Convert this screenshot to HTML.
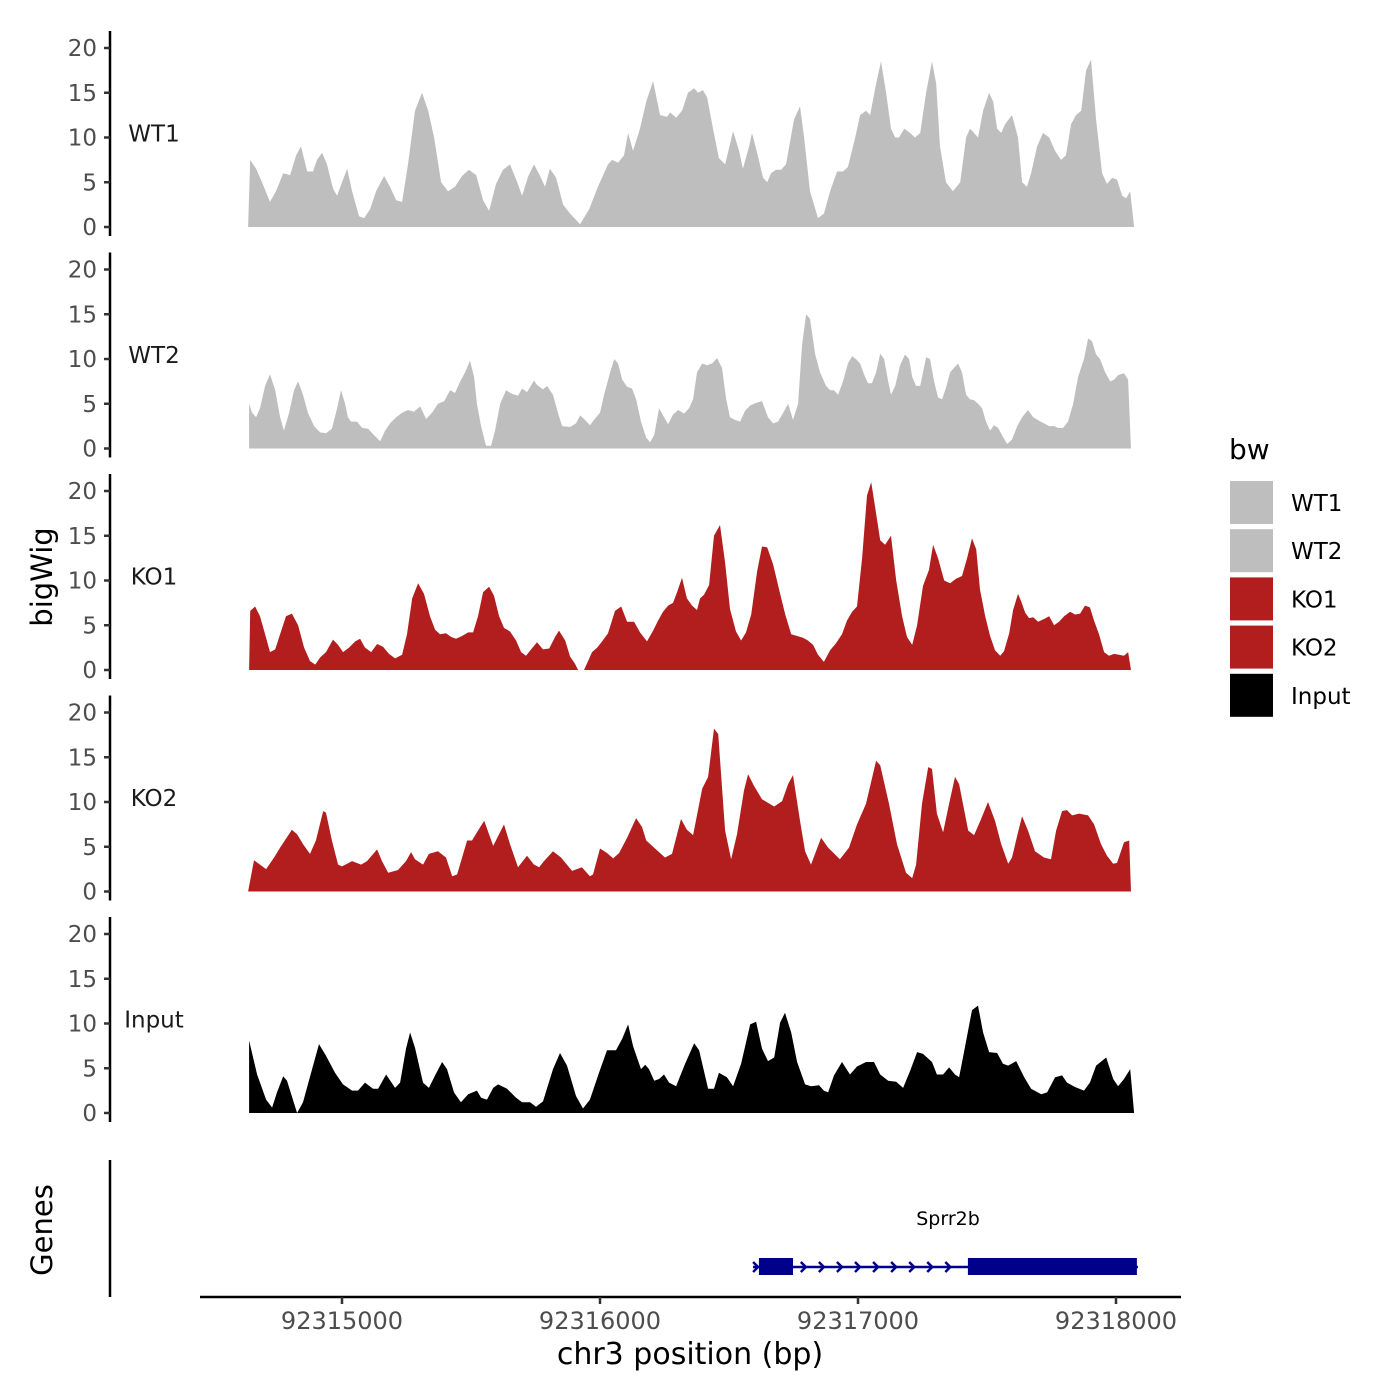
<!DOCTYPE html>
<html><head><meta charset="utf-8"><style>
html,body{margin:0;padding:0;background:#fff}
svg{display:block;font-family:"DejaVu Sans","Liberation Sans",sans-serif}
</style></head><body>
<svg id="chart" width="1400" height="1400" viewBox="0 0 1400 1400"></svg>
<script>
const regionStart = 92314601;
const trackNames = ["WT1","WT2","KO1","KO2","Input"];
const trackColors = ["#bebebe","#bebebe","#b21e1e","#b21e1e","#000000"];
const yTicks = [0,5,10,15,20];
const xTicks = [92315000,92316000,92317000,92318000];

const wt1Pos = [35,43,66,89,120,143,171,198,221,240,264,287,302,322,341,364,380,399,419,438,465,485,508,531,562,585,609,632,655,682,709,733,756,783,810,837,864,891,919,946,969,996,1023,1050,1078,1097,1120,1143,1167,1186,1205,1229,1256,1283,1322,1357,1391,1430,1446,1469,1492,1508,1527,1554,1578,1605,1632,1659,1671,1694,1717,1740,1764,1779,1798,1814,1837,1860,1884,1915,1938,1953,1977,1988,2008,2031,2047,2062,2081,2101,2120,2151,2174,2190,2213,2244,2267,2291,2318,2341,2360,2388,2407,2430,2446,2469,2488,2508,2527,2543,2558,2578,2601,2620,2640,2663,2686,2702,2717,2740,2767,2795,2818,2833,2849,2864,2884,2907,2923,2938,2954,2969,2996,3019,3035,3054,3070,3093,3116,3140,3163,3186,3205,3225,3244,3264,3283,3302,3322,3345,3364,3384,3403,3423,3438,3454,3469];
const wt1Val = [0,7.5,6.5,5,2.8,4,6,5.8,8,9,6.2,6.2,7.5,8.3,7,4.3,3.5,5,6.5,4,1.2,1,2,4,5.7,4.5,3,2.8,7,13,15,13,10,5,4,4.5,5.7,6.4,5.8,3,1.8,4.8,6.4,7,5,3.5,5.6,7,5.7,4.5,6.5,5.5,2.5,1.5,0.3,2,4.5,7,7.5,7.2,8,10.5,8.5,11,14,16.3,12.5,12.3,12.8,12.2,13,15,15.5,15,15.3,14.5,11,7.7,7,10.7,8.5,6.5,9,10.5,8.3,5.5,5,6,6.4,6.4,7,12,13.5,10,4,1,1.5,4,6.2,6.2,6.7,10,12.5,13,12.5,16,18.5,15,11,10,10,11,10.5,10,10.5,15,18.5,16,9,5,4,5,10,11,10.5,10,13,15,14,11,10.5,11.5,12.5,10,5,4.5,6,9,10.5,10,8.5,7.5,8,11.5,12.5,13,17.5,18.7,12,6,4.8,5.5,5.3,3.5,3.2,4,0];

const wt2Pos = [39,50,66,81,101,120,140,159,174,194,213,229,248,267,291,314,337,360,380,395,411,422,434,457,477,500,523,547,566,585,609,632,655,678,702,725,748,771,795,818,837,857,876,895,911,922,938,957,977,992,1012,1035,1058,1081,1097,1116,1143,1155,1178,1194,1205,1217,1236,1252,1283,1306,1322,1341,1360,1384,1399,1415,1438,1454,1469,1485,1504,1523,1539,1558,1578,1593,1609,1628,1643,1663,1682,1702,1725,1744,1760,1775,1795,1814,1833,1853,1872,1888,1903,1922,1942,1961,1981,2004,2027,2050,2070,2089,2109,2128,2147,2167,2182,2198,2213,2233,2252,2275,2291,2306,2322,2341,2360,2376,2391,2407,2426,2438,2453,2469,2485,2500,2516,2527,2543,2562,2581,2597,2609,2624,2640,2651,2663,2678,2694,2709,2725,2740,2756,2771,2787,2802,2818,2833,2849,2864,2880,2895,2911,2926,2942,2957,2977,2996,3016,3035,3058,3078,3101,3120,3140,3159,3174,3194,3213,3233,3252,3275,3291,3306,3322,3337,3357,3376,3392,3407,3430,3446,3457];
const wt2Val = [5,4,3.5,4.5,7,8.3,6.5,3.5,2,4,6.5,7.5,6,4,2.5,1.8,1.7,2.2,4.5,6.5,5,3.5,3,3,2.3,2.2,1.5,0.8,2,2.8,3.5,4,4.3,4.1,4.7,3.3,4,5,5.3,6.5,6.2,7.5,8.5,9.8,8,5,2.5,0.3,0.3,2,5,6.5,6.1,5.9,6.7,6.3,7.6,7.1,6.6,7,6.5,6,4,2.5,2.4,2.8,3.7,3.2,2.6,3.5,4,6,8.5,10,9.5,7.7,6.9,6.7,5.5,3,1.2,0.7,1.5,4.5,3.7,2.7,3.8,4.3,3.9,4.5,5.5,8.5,9.5,9.3,9.5,10.1,9,5.5,3.5,3.2,3,4.2,4.8,5.1,5.3,3.5,2.8,3,4,5,3.2,5,11.5,15,14.5,10.5,8.5,7,6.5,6.5,6,7.5,9.5,10.3,10,9.5,8,7.3,7.3,8.5,10.6,10,7.5,6,7,9.3,10.5,10,8,7,7,8.5,10.2,10,7.5,5.7,5.5,6.8,8.5,9,9.5,8.5,6,5.5,5.4,5,4.5,3,2,2.6,2.3,1.5,0.5,1,2.5,3.5,4.3,3.5,3.1,2.8,2.5,2.5,2.3,2.3,3,5,8,10,12.3,12,10.5,10,8.5,7.5,7.7,8.2,8.4,7.7,0];

const ko1Pos = [39,43,62,81,101,120,140,159,182,205,229,252,275,295,314,337,364,384,403,426,450,469,488,512,535,558,581,605,632,651,671,694,717,740,760,779,802,822,841,864,888,907,926,946,969,988,1008,1027,1050,1074,1093,1112,1132,1155,1178,1202,1225,1240,1264,1283,1302,1314,1326,1337,1353,1368,1388,1407,1430,1457,1481,1504,1531,1554,1581,1605,1624,1643,1663,1682,1698,1717,1736,1756,1775,1787,1802,1822,1841,1864,1884,1903,1926,1946,1965,1985,2008,2027,2047,2070,2093,2116,2140,2163,2186,2205,2225,2244,2267,2291,2314,2337,2356,2376,2395,2415,2434,2450,2469,2485,2504,2527,2547,2570,2589,2609,2628,2651,2674,2690,2709,2733,2756,2779,2802,2822,2841,2857,2872,2892,2911,2930,2950,2965,2985,3000,3019,3031,3047,3062,3078,3097,3120,3140,3159,3178,3198,3221,3240,3260,3279,3298,3314,3333,3353,3372,3392,3411,3430,3446,3457];
const ko1Val = [0,6.6,7.1,6,4,2,2.3,4,6,6.3,5,2.5,1,0.6,1.4,2,3.4,2.8,2,2.5,3.2,3.5,2.5,2,2.9,2.6,1.8,1.3,1.7,4,8,9.7,8.5,6,4.5,4,4.1,3.7,3.5,3.8,4.2,4.2,6,8.7,9.3,8.3,6,4.7,4.3,3.3,2,1.6,2.3,3.1,2.3,2.4,3.7,4.4,3.3,1.5,0.7,0,null,0,1,2,2.5,3.2,4.1,6.6,7.1,5.4,5.4,4.2,3.2,4.4,5.5,6.5,7.2,7.5,8.7,10.3,8,7.2,6.7,8,8.4,9.5,15,16.2,12,6.8,4.3,3.3,4.2,6.2,11,13.8,13.7,11.8,9,6.3,4,3.8,3.6,3.3,2.8,1.7,0.9,2.2,3,4,5.5,6.5,7.1,12.5,19.5,21,17.5,14.5,14,15,10,6,3.7,2.8,5,9.4,11.2,14,12.5,10,9.7,10.2,10.5,12.5,14.7,13.5,9,6,3.8,2.2,1.6,2.1,4.1,6.7,8.5,7.7,6.4,5.8,5.9,5.4,5.7,6,5,5.4,6,6.5,6.2,6.3,7.2,7,5.5,4,2,1.6,1.8,1.7,1.6,2,0];

const ko2Pos = [35,58,105,136,159,205,225,248,275,298,326,337,360,384,399,438,473,496,535,554,578,616,647,667,682,713,736,771,802,826,845,884,903,926,950,985,1027,1050,1081,1116,1143,1163,1182,1217,1248,1291,1329,1360,1372,1399,1426,1450,1473,1504,1539,1562,1578,1616,1651,1678,1713,1736,1760,1795,1818,1841,1857,1884,1907,1930,1957,1973,1996,2027,2074,2105,2128,2147,2174,2194,2217,2256,2283,2329,2364,2395,2430,2469,2485,2519,2550,2585,2609,2624,2647,2671,2686,2705,2729,2752,2775,2791,2826,2849,2876,2903,2930,2954,2981,2996,3019,3035,3058,3085,3120,3147,3167,3190,3209,3229,3256,3291,3314,3341,3364,3388,3403,3430,3450,3457];
const ko2Val = [0,3.5,2.5,3.8,4.9,6.9,6.4,5.3,4.2,5.7,9,8.8,5.7,3,2.8,3.4,3,3.4,4.7,3.4,2.1,2.4,3.4,4.4,3.6,3,4.2,4.5,3.8,1.7,1.9,5.7,5.7,6.8,7.9,5.1,7.5,5.3,2.7,4,3,2.7,3.4,4.5,3.8,2.3,2.7,1.7,1.9,4.8,4.3,3.7,4.3,6,8.2,7.2,5.7,4.7,3.8,4.2,8.1,6.9,6.3,11.5,12.8,18.2,17.6,6.8,3.6,6.4,11.3,13.1,11.8,10.3,9.5,10.1,12,13,7.9,4.5,3,6,4.9,3.6,4.9,7.5,9.8,14.6,14.1,9.8,5.3,2.1,1.5,3,9.8,13.9,13.7,8.7,6.6,9.8,12.8,12,6.8,6.3,8.1,10,7.9,5.3,3.1,3.8,6.6,8.4,6.8,4.5,3.8,3.6,6.8,9,9.1,8.5,8.7,8.5,7.5,5.3,4,3.1,3.2,5.5,5.7,0];

const inputPos = [39,70,105,128,147,171,186,225,248,283,310,337,372,403,438,461,488,519,539,570,605,624,647,663,682,713,736,760,787,806,833,860,888,922,938,961,985,1004,1039,1074,1097,1128,1151,1178,1217,1244,1271,1306,1333,1360,1395,1426,1461,1485,1508,1527,1558,1574,1589,1609,1628,1647,1667,1694,1729,1764,1783,1818,1841,1860,1891,1915,1946,1981,2004,2027,2050,2074,2097,2116,2140,2163,2194,2217,2248,2267,2283,2306,2337,2368,2395,2430,2461,2485,2516,2547,2574,2601,2628,2651,2686,2705,2729,2752,2775,2791,2810,2841,2864,2884,2907,2938,2961,2981,3012,3043,3070,3109,3132,3163,3190,3209,3240,3275,3298,3322,3361,3388,3407,3430,3454,3469];
const inputVal = [8.1,4.3,1.5,0.6,2.3,4.1,3.6,0,1.2,4.9,7.7,6.4,4.5,3.2,2.5,2.5,3.4,2.7,2.7,4.3,2.8,3.4,7.2,9,7.3,3.4,2.8,4.2,5.7,4.9,2.3,1.2,2.1,2.5,1.7,1.5,2.8,3.2,2.7,1.7,1.2,1.2,0.7,1.3,4.9,6.7,5.3,1.9,0.5,1.5,4.5,7,7,8.3,9.9,7.5,4.9,5.4,4.9,3.6,3.8,4.3,3.4,3,5.5,7.8,7,2.7,2.7,4.5,4,3,5.5,9.9,10.2,7.2,5.8,6.2,10.1,11.2,9,5.7,3.2,3,3.1,2.5,2.3,4.2,5.7,4.3,5.2,5.7,5.7,4.3,3.6,3.5,2.8,4.7,6.8,6.6,5.7,4.3,4.3,5.1,4.3,4,6.8,11.5,12,9,6.8,6.7,5.5,5.3,5.8,4,2.7,2.1,2.3,4,4.2,3.4,2.9,2.5,3.4,5.3,6.2,3.8,3,3.8,4.9,0];

const trackPos = [wt1Pos,wt2Pos,ko1Pos,ko2Pos,inputPos];
const trackVal = [wt1Val,wt2Val,ko1Val,ko2Val,inputVal];

const geneName = "Sprr2b";
const geneStart = 92316593, geneEnd = 92318085;
const exonStarts = [92316616,92317426];
const exonEnds = [92316748,92318081];
const intronArrows = [92316790,92316860,92316930,92317000,92317070,92317140,92317210,92317280,92317350];

const NS = "http://www.w3.org/2000/svg";
const svg = document.getElementById('chart');
function mk(tag, attrs, parent, text){
  const e = document.createElementNS(NS, tag);
  for (const k in attrs) e.setAttribute(k, attrs[k]);
  if (text !== undefined) e.textContent = text;
  (parent || svg).appendChild(e);
  return e;
}
const xScale = bp => 342 + (bp - 92315000) * 0.258;
const panelTop = i => 31 + i * 221.5;
const yScale = (i, v) => 227 + i * 221.5 - v * 8.95;

trackNames.forEach((name, i) => {
  const g = mk('g', {});
  
  
  const axis = mk('line', {x1:110, x2:110, y1:panelTop(i), y2:panelTop(i)+205, stroke:'#000', 'stroke-width':2.5}, g);
  
  
  yTicks.forEach(t => {
    const y = yScale(i, t);
    const tk = mk('line', {x1:104, x2:110, y1:y, y2:y, stroke:'#333', 'stroke-width':2.5}, g);
    
    
    const lb = mk('text', {x:97, y:y+8, 'text-anchor':'end', 'font-size':23, fill:'#4d4d4d'}, g, String(t));
    
    
  });
  const tl = mk('text', {x:154, y:yScale(i,10)+4, 'text-anchor':'middle', 'font-size':23, fill:'#1a1a1a'}, g, name);
  
  
  const pos = trackPos[i], val = trackVal[i];
  const base = yScale(i, 0);
  let segs = [], cur = [];
  for (let k = 0; k < pos.length; k++) {
    if (val[k] === null) { if (cur.length) segs.push(cur); cur = []; continue; }
    cur.push([xScale(regionStart + pos[k]), yScale(i, val[k])]);
  }
  if (cur.length) segs.push(cur);
  segs.forEach(s => {
    let d = 'M' + s[0][0].toFixed(1) + ',' + base;
    s.forEach(p => { d += 'L' + p[0].toFixed(1) + ',' + p[1].toFixed(1); });
    d += 'L' + s[s.length-1][0].toFixed(1) + ',' + base + 'Z';
    const a = mk('path', {d:d, fill:trackColors[i], stroke:'none'}, g);
    
    
  });
});

const yl = mk('text', {x:0, y:0, transform:'translate(52,577) rotate(-90)', 'text-anchor':'middle', 'font-size':29, fill:'#000'}, svg, 'bigWig');



const gg = mk('g', {});


const gax = mk('line', {x1:110, x2:110, y1:1160, y2:1297, stroke:'#000', 'stroke-width':2.5}, gg);


const gl = mk('text', {x:0, y:0, transform:'translate(52,1230) rotate(-90)', 'text-anchor':'middle', 'font-size':29, fill:'#000'}, gg, 'Genes');


const gline = mk('line', {x1:xScale(geneStart), x2:xScale(geneEnd), y1:1267, y2:1267, stroke:'#00008b', 'stroke-width':2.5}, gg);


intronArrows.concat([geneStart+12]).forEach(b => {
  const x = xScale(b);
  const ar = mk('path', {d:`M${x-3},1262 L${x+2},1267 L${x-3},1272`, stroke:'#00008b', 'stroke-width':2.5, fill:'none'}, gg);
  
  
});
exonStarts.forEach((s, k) => {
  const ex = mk('rect', {x:xScale(s), y:1258, width:xScale(exonEnds[k])-xScale(s), height:17, fill:'#00008b'}, gg);
  
  
});
const gn = mk('text', {x:948, y:1225, 'text-anchor':'middle', 'font-size':19, fill:'#000'}, gg, geneName);



const xa = mk('line', {x1:200, x2:1181, y1:1297, y2:1297, stroke:'#000', 'stroke-width':2.5});


xTicks.forEach(t => {
  const x = xScale(t);
  const tk = mk('line', {x1:x, x2:x, y1:1297, y2:1304, stroke:'#333', 'stroke-width':2.5});
  
  
  const lb = mk('text', {x:x, y:1329, 'text-anchor':'middle', 'font-size':24, fill:'#4d4d4d'}, svg, String(t));
  
  
});
const xt = mk('text', {x:690, y:1364, 'text-anchor':'middle', 'font-size':30, fill:'#000'}, svg, 'chr3 position (bp)');



const lg = mk('g', {});


const lt = mk('text', {x:1229, y:459, 'font-size':28, fill:'#000'}, lg, 'bw');


trackNames.forEach((name, i) => {
  const y = 481 + i * 48.2;
  const e = mk('g', {}, lg);
  
  
  const r = mk('rect', {x:1230, y:y, width:43, height:43, fill:trackColors[i]}, e);
  
  
  const t = mk('text', {x:1291, y:y+30, 'font-size':23, fill:'#000'}, e, name);
  
  
});
</script>
</body></html>
